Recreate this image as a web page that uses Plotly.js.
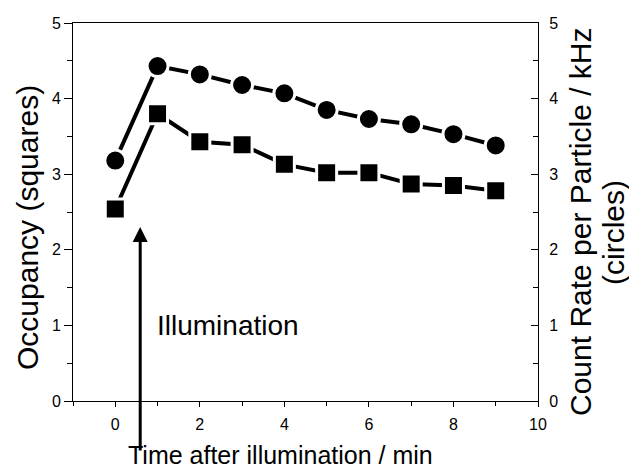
<!DOCTYPE html>
<html>
<head>
<meta charset="utf-8">
<script src="https://cdn.plot.ly/plotly-3.0.1.min.js"></script>
<style>html,body{margin:0;padding:0;background:#fff;}#chart{width:629px;height:471px;}</style>
</head>
<body>
<div id="chart"></div>
<script>
const timeMin = [0, 1, 2, 3, 4, 5, 6, 7, 8, 9];
const occupancySquares = [2.54, 3.80, 3.43, 3.39, 3.13, 3.02, 3.02, 2.87, 2.85, 2.78];
const countRateCircles = [3.18, 4.43, 4.32, 4.18, 4.07, 3.85, 3.73, 3.66, 3.53, 3.38];
const tickValsX = [0, 2, 4, 6, 8, 10];
const tickValsY = [0, 1, 2, 3, 4, 5];
const illuminationTime = 0.59;
const illuminationTipY = 2.30;

const FONT = 'Liberation Sans, Arial, sans-serif';

const traces = [
  {
    x: timeMin, y: occupancySquares, yaxis: 'y', type: 'scatter', mode: 'lines+markers',
    line: {color: '#000', width: 4},
    marker: {symbol: 'square', size: 20, color: '#000', line: {color: '#fff', width: 3}},
    showlegend: false, cliponaxis: false
  },
  {
    x: timeMin, y: countRateCircles, yaxis: 'y2', type: 'scatter', mode: 'lines+markers',
    line: {color: '#000', width: 4},
    marker: {symbol: 'circle', size: 21, color: '#000', line: {color: '#fff', width: 3}},
    showlegend: false, cliponaxis: false
  }
];

const layout = {
  width: 629, height: 471,
  margin: {l: 73, r: 91, t: 23, b: 70, pad: 0},
  paper_bgcolor: '#fff', plot_bgcolor: '#fff',
  font: {family: FONT, color: '#000', size: 16},
  xaxis: {
    range: [-1, 10], tickvals: tickValsX, ticks: 'outside', ticklen: 5, tickwidth: 1, tickcolor: '#000',
    minor: {dtick: 1, tick0: 0, ticks: 'outside', ticklen: 4, tickcolor: '#000'},
    showline: true, linecolor: '#000', linewidth: 1, mirror: true,
    showgrid: false, zeroline: false, tickfont: {size: 16, family: FONT}, ticklabelstandoff: 4
  },
  yaxis: {
    range: [0, 5], tickvals: tickValsY, ticks: 'outside', ticklen: 8, tickwidth: 1, tickcolor: '#000',
    minor: {dtick: 0.5, tick0: 0, ticks: 'outside', ticklen: 5, tickcolor: '#000'},
    showline: true, linecolor: '#000', linewidth: 1,
    showgrid: false, zeroline: false, tickfont: {size: 16, family: FONT}, ticklabelstandoff: 0
  },
  yaxis2: {
    range: [0, 5], tickvals: tickValsY, overlaying: 'y', side: 'right',
    ticks: 'inside', ticklen: 7, tickwidth: 1, tickcolor: '#000',
    minor: {dtick: 0.5, tick0: 0, ticks: 'inside', ticklen: 5, tickcolor: '#000'},
    showline: true, linecolor: '#000', linewidth: 1,
    showgrid: false, zeroline: false, tickfont: {size: 16, family: FONT}, ticklabelstandoff: 7
  },
  annotations: [
    {x: illuminationTime, y: illuminationTipY, xref: 'x', yref: 'y', text: '', showarrow: true,
     ax: 0, ay: 225, arrowhead: 2, arrowsize: 1, arrowwidth: 3, arrowcolor: '#000', standoff: 0},
    {x: (155 - 73) / 465, y: (401 - 325) / 378, xref: 'paper', yref: 'paper', text: 'Illumination',
     showarrow: false, xanchor: 'left', yanchor: 'middle', font: {size: 28, family: FONT}},
    {x: (280 - 73) / 465, y: (401 - 455) / 378, xref: 'paper', yref: 'paper', text: 'Time after illumination / min',
     showarrow: false, xanchor: 'center', yanchor: 'middle', font: {size: 25, family: FONT}},
    {x: (27 - 73) / 465, y: (401 - 228) / 378, xref: 'paper', yref: 'paper', text: 'Occupancy (squares)',
     showarrow: false, xanchor: 'center', yanchor: 'middle', textangle: -90, font: {size: 30, family: FONT}},
    {x: (580 - 73) / 465, y: (401 - 222) / 378, xref: 'paper', yref: 'paper', text: 'Count Rate per Particle / kHz',
     showarrow: false, xanchor: 'center', yanchor: 'middle', textangle: -90, font: {size: 30, family: FONT}},
    {x: (613 - 73) / 465, y: (401 - 233) / 378, xref: 'paper', yref: 'paper', text: '(circles)',
     showarrow: false, xanchor: 'center', yanchor: 'middle', textangle: -90, font: {size: 30, family: FONT}}
  ]
};

Plotly.newPlot('chart', traces, layout, {displayModeBar: false, staticPlot: true});
</script>
</body>
</html>
